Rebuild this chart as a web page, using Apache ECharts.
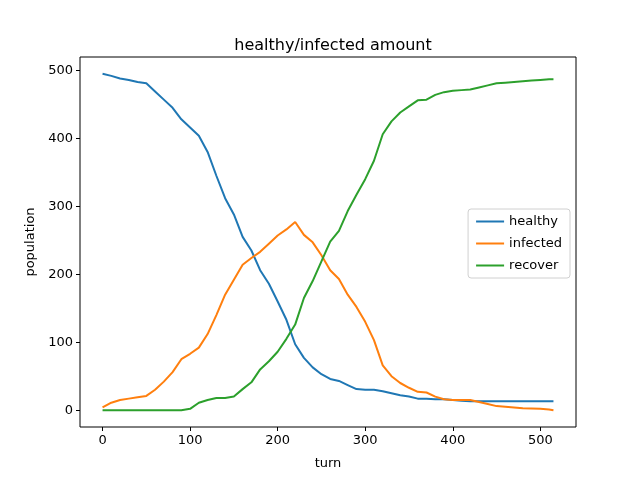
<!DOCTYPE html>
<html>
<head>
<meta charset="utf-8">
<script src="https://cdn.jsdelivr.net/npm/echarts@6/dist/echarts.min.js"></script>
<style>
  html, body { margin: 0; padding: 0; background: #fff; }
  #chart { width: 640px; height: 480px; }
</style>
</head>
<body>
<div id="chart"></div>
<script>
// turns sampled every 10, last one at 515
var turns = [0, 10, 20, 30, 40, 50, 60, 70, 80, 90,
  100, 110, 120, 130, 140, 150, 160, 170, 180, 190,
  200, 210, 220, 230, 240, 250, 260, 270, 280, 290,
  300, 310, 320, 330, 340, 350, 360, 370, 380, 390,
  400, 410, 420, 430, 440, 450, 460, 470, 480, 490,
  500, 510, 515]

var healthy = [495, 492, 488, 486, 483, 481, 469, 457, 445, 428,
  416, 404, 380, 345, 312, 288, 255, 235, 206, 186,
  160, 133, 97, 77, 63, 53, 46, 43, 37, 31,
  30, 30, 28, 25, 22, 20, 17, 17, 16, 16,
  15, 14, 13, 13, 13, 13, 13, 13, 13, 13,
  13, 13, 13]

var infected = [4, 11, 15, 17, 19, 21, 30, 42, 56, 75,
  83, 92, 112, 140, 170, 192, 214, 224, 233, 245,
  257, 266, 277, 258, 247, 228, 206, 193, 170, 152,
  130, 103, 66, 50, 40, 33, 27, 26, 20, 16,
  15, 15, 15, 12, 9, 6, 5, 4, 3, 2.5,
  2, 1, 0]

var recover = [0, 0, 0, 0, 0, 0, 0, 0, 0, 0,
  2, 11, 15, 18, 18, 20, 31, 41, 60, 72,
  86, 105, 126, 165, 190, 219, 248, 264, 293, 317,
  340, 367, 406, 425, 438, 447, 456, 457, 464, 468,
  470, 471, 472, 475, 478, 481, 482, 483, 484, 485,
  486, 487, 487]

var xTicks = [0, 100, 200, 300, 400, 500]
var yTicks = [0, 100, 200, 300, 400, 500]

var names = ["healthy", "infected", "recover"]
var colors = ["#1f77b4", "#ff7f0e", "#2ca02c"]

function pairs(values) {
  return turns.map(function (t, i) { return [t, values[i]] })
}

var chart = echarts.init(document.getElementById("chart"), null, { renderer: "canvas" })

var font = "DejaVu Sans"

var option = {
  animation: false,
  backgroundColor: "#fff",
  title: {
    text: "healthy/infected amount",
    left: 328,
    top: 33,
    textAlign: "center",
    textStyle: { fontFamily: font, fontSize: 16, fontWeight: "normal", color: "#000" }
  },
  legend: {
    data: names,
    orient: "vertical",
    right: 70,
    top: 209,
    icon: "rect",
    itemWidth: 28,
    itemHeight: 2,
    itemGap: 9,
    padding: [6, 8, 6, 8],
    borderColor: "#d0d0d0",
    borderWidth: 1,
    borderRadius: 3,
    textStyle: { fontFamily: font, fontSize: 13, color: "#000" }
  },
  grid: {
    left: 80,
    right: 64,
    top: 57,
    bottom: 53,
    show: true,
    borderColor: "#000",
    borderWidth: 1
  },
  xAxis: {
    type: "value",
    min: -25.75,
    max: 540.75,
    name: "turn",
    nameLocation: "middle",
    nameGap: 30,
    nameTextStyle: { fontFamily: font, fontSize: 13, color: "#000" },
    axisLine: { show: false, onZero: false },
    splitLine: { show: false },
    axisTick: { show: true, inside: false, length: 4, lineStyle: { color: "#000" }, customValues: xTicks },
    axisLabel: { fontFamily: font, fontSize: 13, color: "#000", margin: 7, customValues: xTicks }
  },
  yAxis: {
    type: "value",
    min: -24.75,
    max: 519.75,
    name: "population",
    nameLocation: "middle",
    nameGap: 42,
    nameTextStyle: { fontFamily: font, fontSize: 13, color: "#000" },
    axisLine: { show: false, onZero: false },
    splitLine: { show: false },
    axisTick: { show: true, inside: false, length: 4, lineStyle: { color: "#000" }, customValues: yTicks },
    axisLabel: { fontFamily: font, fontSize: 13, color: "#000", margin: 7, customValues: yTicks }
  },
  series: [healthy, infected, recover].map(function (vals, i) {
    return {
      name: names[i],
      type: "line",
      data: pairs(vals),
      showSymbol: false,
      symbol: "none",
      color: colors[i],
      lineStyle: { width: 2, color: colors[i] }
    }
  })
}

chart.setOption(option)
</script>
</body>
</html>
